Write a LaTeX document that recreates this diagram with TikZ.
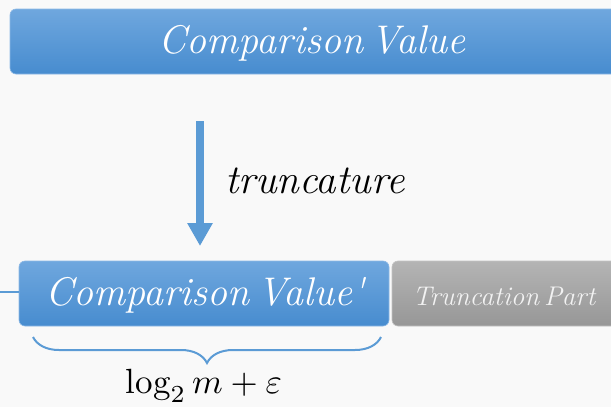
\documentclass[tikz,border=0pt]{standalone}
\usepackage{fontspec}
\setmainfont{Latin Modern Roman}
\usetikzlibrary{arrows.meta,decorations.pathreplacing}
\definecolor{bg}{HTML}{F9F9F9}
\definecolor{bluetop}{HTML}{6FA7DE}
\definecolor{bluebot}{HTML}{478CCF}
\definecolor{blueedge}{HTML}{8DB9E6}
\definecolor{greytop}{HTML}{B4B4B4}
\definecolor{greybot}{HTML}{979797}
\definecolor{accent}{HTML}{5B9BD5}
\newcommand{\tightsp}{\hspace{0.18em}}
\tikzset{
  bluebox/.style={rounded corners=6pt, draw=blueedge, line width=0.6pt,
    top color=bluetop, bottom color=bluebot},
  greybox/.style={rounded corners=6pt, draw=greytop!80!white, line width=0.6pt,
    top color=greytop, bottom color=greybot},
  label/.style={inner sep=0pt, text=white},
  bigarrow/.style={draw=accent, line width=8pt,
    -{Triangle[width=24pt,length=23pt]}},
  bigtext/.style={font=\fontsize{40}{45}\selectfont\itshape},
}
\begin{document}
\begin{tikzpicture}[x=1pt,y=-1pt]
  \fill[bg] (0,0) rectangle (611,407);
  \useasboundingbox (0,0) rectangle (611,407);

  % top value bar (runs off the right edge)
  \path[bluebox] (10,9) rectangle (625,74);
  \node[label, bigtext] (cv) at (312,43) {Comparison\tightsp Value};

  % truncation arrow
  \coordinate (a1) at (200,121);
  \coordinate (a2) at (200,246);
  \draw[bigarrow] (a1) -- (a2);
  \node[inner sep=0pt, font=\fontsize{41}{46}\selectfont\itshape, anchor=west] (tr) at (225,181) {truncature};

  % truncated value and dropped part
  \path[bluebox] (19,261) rectangle (389,326);
  \node[label, bigtext] (cvp) at (205,295) {Comparison\tightsp Value\/\textquotesingle};
  \path[greybox] (392,261) rectangle (625,326);
  \node[label, font=\fontsize{27}{30}\selectfont\itshape, text=white!95!black] (tp) at (504,296)
    {Truncation\tightsp Part};

  % lead-in line on the left
  \coordinate (l0) at (0,292);
  \draw[accent, line width=1.6pt] (l0) -- (19,292);

  % width brace
  \coordinate (b1) at (33,337);
  \coordinate (b2) at (381,337);
  \draw[accent, line width=2pt, decorate,
        decoration={brace, mirror, amplitude=26pt}] (b1) -- (b2);
  \node[inner sep=0pt, scale=3.5] (len) at (204,386)
    {$\log_2 m + \varepsilon$};
\end{tikzpicture}
\end{document}
